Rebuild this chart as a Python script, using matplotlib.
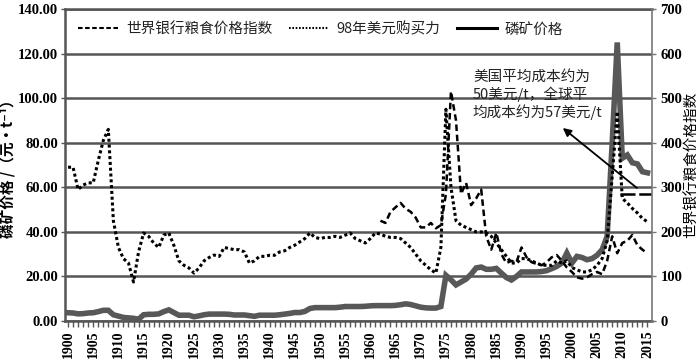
import matplotlib
matplotlib.use('Agg')
import matplotlib.pyplot as plt
from matplotlib.lines import Line2D
from matplotlib.ticker import MultipleLocator, FuncFormatter

# ---------------- data ----------------
years = list(range(1900, 2016))

# nominal phosphate rock price (left axis)
phosphate_price = [
    3.7, 3.6, 3.2, 3.3, 3.6, 3.7, 4.2, 4.8, 4.8, 2.8,
    2.2, 1.6, 1.4, 1.2, 0.8, 2.8, 3.0, 3.0, 3.2, 4.2,
    5.0, 3.8, 2.6, 2.6, 2.6, 1.9, 2.3, 2.8, 3.1, 3.1,
    3.1, 3.1, 3.0, 2.7, 2.7, 2.7, 2.4, 2.1, 2.6, 2.6,
    2.6, 2.6, 2.8, 3.1, 3.4, 3.8, 3.8, 4.3, 5.6, 6.0,
    6.0, 6.0, 6.0, 6.0, 6.2, 6.5, 6.5, 6.5, 6.5, 6.6,
    6.8, 6.9, 6.9, 6.9, 6.9, 7.0, 7.3, 7.7, 7.4, 6.8,
    6.2, 5.9, 5.8, 5.8, 6.5, 20.5, 18.5, 16.2, 17.5, 18.8,
    21.0, 23.8, 24.2, 23.2, 23.2, 23.6, 21.5, 19.5, 18.4, 20.0,
    22.0, 22.0, 22.0, 22.0, 22.2, 22.6, 23.5, 24.5, 26.0, 30.5,
    26.0, 29.0, 28.5, 27.5, 28.0, 29.5, 32.0, 38.0, 80.0, 125.0,
    73.0, 74.5, 71.0, 70.5, 67.0, 66.5,
]

# phosphate price in 1998 US dollars (left axis)
price_1998_usd = [
    69, 69, 59, 61, 62, 62, 72, 81, 86, 45,
    33, 28, 26, 17.5, 31, 39.5, 38, 35, 33, 38.5,
    39.5, 34, 27, 25, 23.8, 21.5, 23.8, 27, 28.5, 29.6,
    29, 33, 32.5, 32, 32, 31, 26, 27, 29, 29,
    29.5, 29.5, 31, 31.5, 33, 34, 35.5, 37, 39.5, 37.5,
    37, 37.5, 37.5, 38, 37.5, 38.5, 39.5, 37, 36, 35,
    37, 39.5, 39, 38, 37.5, 37.5, 37, 35, 33, 30,
    27, 25, 23, 21.5, 33, 95, 60, 45, 43, 42,
    41, 40, 40, 39.5, 38, 35, 32, 29, 26, 26,
    28, 28, 27, 26, 25, 25, 25, 27, 26, 27,
    24, 23, 22, 22, 23, 25, 28, 36, 65, 94,
    55, 53, 50.5, 48.5, 46, 44.5,
]

# World Bank food price index (right axis)
food_years = list(range(1962, 2016))
food_index = [
    225, 220, 245, 255, 265, 252, 245, 232,
    210, 210, 220, 208, 215, 285, 515, 450, 285, 310,
    260, 275, 295, 190, 160, 198, 150, 130, 135, 132,
    165, 143, 132, 128, 125, 132, 143, 148, 135, 120,
    110, 98, 95, 98, 105, 110, 105, 135, 190, 152,
    175, 180, 193, 170, 160, 152,
]

global_cost = 57          # 全球平均成本 (美元/t)
global_cost_from = 2009.5

left_ticks = [0, 20, 40, 60, 80, 100, 120, 140]
right_ticks = [0, 100, 200, 300, 400, 500, 600, 700]
x_ticks = list(range(1900, 2016, 5))

legend_labels = ['世界银行粮食价格指数', '98年美元购买力', '磷矿价格']
note_text = '美国平均成本约为\n50美元/t，全球平\n均成本约为57美元/t'

# ---------------- style ----------------
CJK = ['Noto Sans CJK SC', 'DejaVu Sans']
SERIF = ['Liberation Serif', 'DejaVu Serif']
GRID = '#555555'

fig = plt.figure(figsize=(7.0, 3.63), dpi=100)
ax = fig.add_axes([65/700, 1 - 321/363, 587/700, 312/363])
ax2 = ax.twinx()

ax.set_xlim(1899.4, 2015.9)
ax.set_ylim(0, 140)
ax2.set_ylim(0, 700)

# grid
ax.set_yticks(left_ticks)
ax.yaxis.grid(True, color=GRID, lw=1.8, zorder=0)
ax.set_axisbelow(True)

# series
ax.plot(years, phosphate_price, color='#585858', lw=4.0, solid_joinstyle='miter',
        zorder=3)
ax.plot(years, price_1998_usd, color='black', lw=2.2, linestyle=(0, (1, 0.9)),
        zorder=4)
ax2.plot(food_years, food_index, color='black', lw=1.8, linestyle=(0, (2.6, 1.5)),
         zorder=4)

# global cost line
ax.plot([global_cost_from, 2015.9], [global_cost, global_cost], color='black',
        lw=1.8, linestyle=(0, (6, 1.5)), zorder=5)

# annotation
ax.annotate('', xy=(1998.2, 86.6), xytext=(2012.9, 59.7),
            arrowprops=dict(arrowstyle='-|>', color='black', lw=1.3,
                            mutation_scale=12, shrinkA=0, shrinkB=0),
            zorder=6)
ax.text(0.695, 0.805, note_text, transform=ax.transAxes, ha='left', va='top',
        fontsize=10.5, family=CJK, linespacing=1.18, color='#222222', zorder=6)

# spines
for s in ['left', 'bottom', 'top']:
    ax.spines[s].set_color(GRID)
    ax.spines[s].set_linewidth(1.8)
ax.spines['right'].set_visible(False)
for s in ['left', 'bottom', 'top']:
    ax2.spines[s].set_visible(False)
ax2.spines['right'].set_color('#777777')
ax2.spines['right'].set_linewidth(1.2)

# x ticks
ax.set_xticks(x_ticks)
ax.xaxis.set_minor_locator(MultipleLocator(1))
ax.tick_params(axis='x', which='both', direction='out', length=4, width=1,
               color=GRID, pad=3)
ax.set_xticklabels([str(t) for t in x_ticks], rotation=90, fontsize=10,
                   fontweight='bold', family=SERIF)

# left y ticks
ax.tick_params(axis='y', direction='out', length=3, width=1, color=GRID, pad=2)
ax.yaxis.set_major_formatter(FuncFormatter(lambda v, p: f'{v:.2f}'))
for lab in ax.get_yticklabels():
    lab.set_fontsize(10.5)
    lab.set_fontweight('bold')
    lab.set_family(SERIF)

# right y ticks
ax2.set_yticks(right_ticks)
ax2.tick_params(axis='y', direction='out', length=3, width=1, color='#777777', pad=3)
ax2.set_yticklabels([str(t) for t in right_ticks], fontsize=10.5,
                    fontweight='bold', family=SERIF)

# axis labels
ax.set_ylabel('磷矿价格 /（元·t⁻¹）', family=CJK, fontsize=10.5, fontweight='bold')
ax.yaxis.set_label_coords(-0.084, 0.5)
ax2.set_ylabel('世界银行粮食价格指数', family=CJK, fontsize=10.5, rotation=90)
ax2.yaxis.set_label_coords(1.056, 0.5)

# legend
handles = [
    Line2D([], [], color='black', lw=1.5, linestyle=(0, (2.2, 1.2))),
    Line2D([], [], color='black', lw=1.5, linestyle=(0, (0.8, 0.8))),
    Line2D([], [], color='black', lw=2.2),
]
leg = ax.legend(handles, legend_labels, loc='upper left', ncol=3,
                bbox_to_anchor=(0.0, 1.0), frameon=False, handlelength=2.8,
                columnspacing=1.1, handletextpad=0.5, borderaxespad=0.5,
                prop={'family': CJK, 'size': 10.5})
for t in leg.get_texts():
    t.set_color('#222222')

fig.savefig('out.png', dpi=100)
